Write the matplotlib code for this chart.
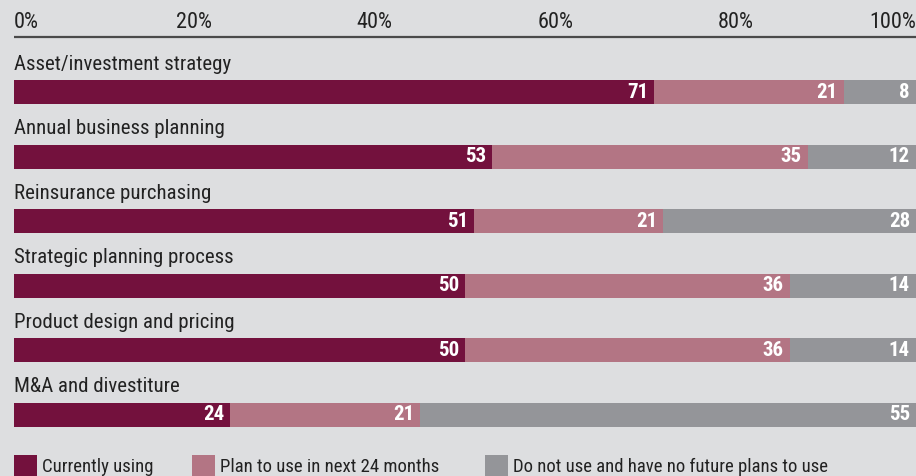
import matplotlib
matplotlib.use("Agg")
import matplotlib.pyplot as plt
from matplotlib import font_manager as fm

categories = ["Asset/investment strategy", "Annual business planning", "Reinsurance purchasing",
              "Strategic planning process", "Product design and pricing", "M&A and divestiture"]
currently = [71, 53, 51, 50, 50, 24]
plan = [21, 35, 21, 36, 36, 21]
no_plan = [8, 12, 28, 14, 14, 55]
series_names = ["Currently using", "Plan to use in next 24 months", "Do not use and have no future plans to use"]
tick_values = [0, 20, 40, 60, 80, 100]
tick_labels = ["0%", "20%", "40%", "60%", "80%", "100%"]

colors = ["#73113D", "#B37584", "#949599"]
bg = "#DDDEE0"

names = {f.name for f in fm.fontManager.ttflist}
fam = [f for f in ["Liberation Sans Narrow", "DejaVu Sans Condensed", "Roboto Condensed"] if f in names] + ["DejaVu Sans"]
plt.rcParams['font.family'] = fam

W, H = 916, 476
fig = plt.figure(figsize=(W / 100, H / 100), dpi=100, facecolor=bg)
x0, x1 = 14, 916
ax = fig.add_axes([x0 / W, 0, (x1 - x0) / W, 1])
ax.set_facecolor(bg)
ax.set_xlim(0, 100)
ax.set_ylim(H, 0)  # y in pixel-like units, top at 0
ax.axis("off")

row0, step, bh = 92, 64.6, 24
ys = [row0 + i * step for i in range(len(categories))]

left = [0] * len(categories)
for vals, col in zip([currently, plan, no_plan], colors):
    ax.barh(ys, vals, left=left, height=bh, color=col, linewidth=0)
    for y, l, v in zip(ys, left, vals):
        ax.annotate(str(v), xy=(l + v, y), xytext=(-6, 0), textcoords="offset pixels",
                    ha="right", va="center", color="white", fontsize=15, fontweight="bold")
    left = [a + b for a, b in zip(left, vals)]

for y, c in zip(ys, categories):
    ax.annotate(c, xy=(0, y), xytext=(0, 28), textcoords="offset pixels",
                ha="left", va="center", fontsize=15, color="#222222")

# top axis line and tick labels
ax.plot([0, 100], [37, 37], color="#4a4a4a", lw=1.6, clip_on=False, solid_capstyle="butt")
for v, t in zip(tick_values, tick_labels):
    ha = "left" if v == 0 else ("right" if v == 100 else "center")
    ax.text(v, 22, t, ha=ha, va="center", fontsize=16, color="#222222")

# legend
leg_x = [14, 192, 485]
for lx, name, col in zip(leg_x, series_names, colors):
    fig.patches.append(plt.Rectangle((lx / W, 0), 23 / W, 21 / H, transform=fig.transFigure,
                                     color=col, linewidth=0))
    fig.text((lx + 28) / W, 9 / H, name, ha="left", va="center", fontsize=13.5, color="#222222")

fig.savefig("out.png", dpi=100, facecolor=bg)
